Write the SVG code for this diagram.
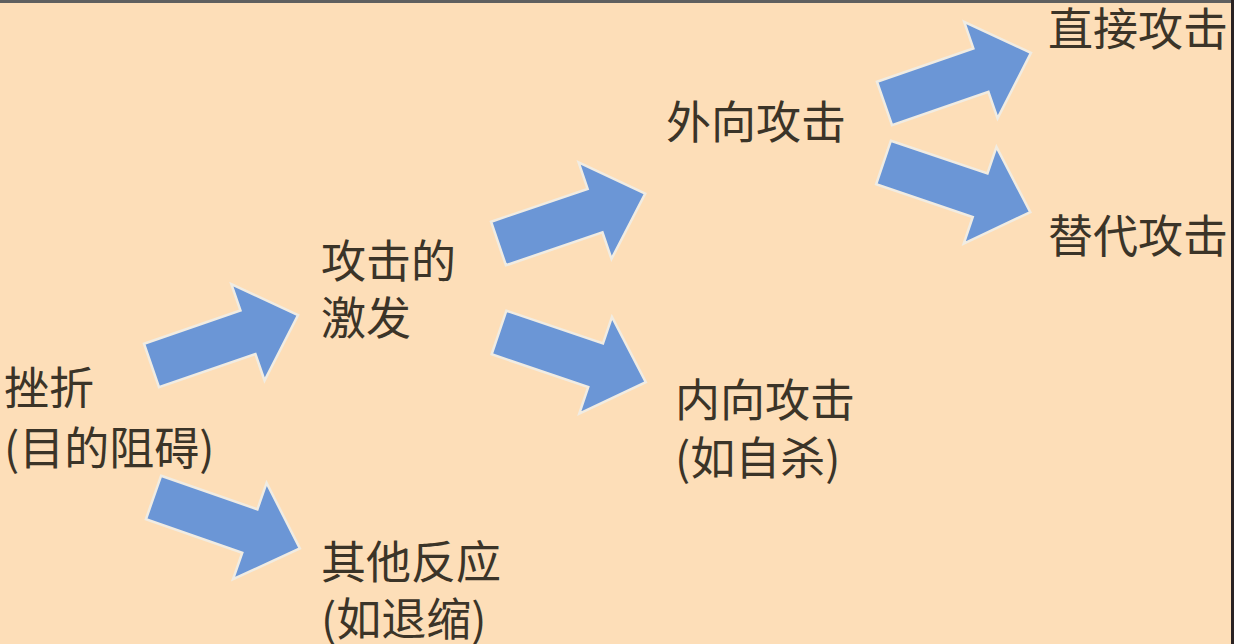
<svg xmlns="http://www.w3.org/2000/svg" width="1234" height="644" viewBox="0 0 1234 644">
  <style>
    .lbl { font-family: "Noto Sans CJK SC", "Liberation Serif", serif; font-size: 45px; fill: #3b3428; }
    .arrow { fill: #6b96d6; stroke: #f1ece2; stroke-width: 2.5; stroke-linejoin: miter; }
  </style>
  <defs>
    <!-- block arrow pointing along +x, tail at the origin -->
    <path id="blockArrow" d="M0,-23 L102,-23 L102,-51 L155,0 L102,51 L102,23 L0,23 Z"/>
  </defs>

  <!-- background and frame -->
  <rect x="0" y="0" width="1234" height="644" fill="#fddeb8"/>
  <rect x="0" y="0" width="1234" height="3" fill="#5f5f5f"/>
  <rect x="1231" y="0" width="3" height="644" fill="#2a2222"/>

  <g id="connectors">
    <use href="#blockArrow" class="arrow" transform="translate(151.5,365.5) rotate(-19)"/>
    <use href="#blockArrow" class="arrow" transform="translate(153.5,497.5) rotate(19.2)"/>
    <use href="#blockArrow" class="arrow" transform="translate(498.5,243.5) rotate(-18.8)"/>
    <use href="#blockArrow" class="arrow" transform="translate(499,332.5) rotate(18.7)"/>
    <use href="#blockArrow" class="arrow" transform="translate(884.5,103.5) rotate(-19.1)"/>
    <use href="#blockArrow" class="arrow" transform="translate(883.5,162.5) rotate(18.7)"/>
  </g>

  <g id="frustration">
    <text class="lbl" x="4" y="405">挫折</text>
    <text class="lbl" x="4" y="465">(目的阻碍)</text>
  </g>
  <g id="arousal">
    <text class="lbl" x="321" y="278">攻击的</text>
    <text class="lbl" x="321" y="335">激发</text>
  </g>
  <g id="other-reaction">
    <text class="lbl" x="321" y="579">其他反应</text>
    <text class="lbl" x="321" y="636">(如退缩)</text>
  </g>
  <g id="outward">
    <text class="lbl" x="666" y="139">外向攻击</text>
  </g>
  <g id="inward">
    <text class="lbl" x="675" y="417">内向攻击</text>
    <text class="lbl" x="675" y="475">(如自杀)</text>
  </g>
  <g id="direct">
    <text class="lbl" x="1048" y="46">直接攻击</text>
  </g>
  <g id="displaced">
    <text class="lbl" x="1048" y="253">替代攻击</text>
  </g>
</svg>
